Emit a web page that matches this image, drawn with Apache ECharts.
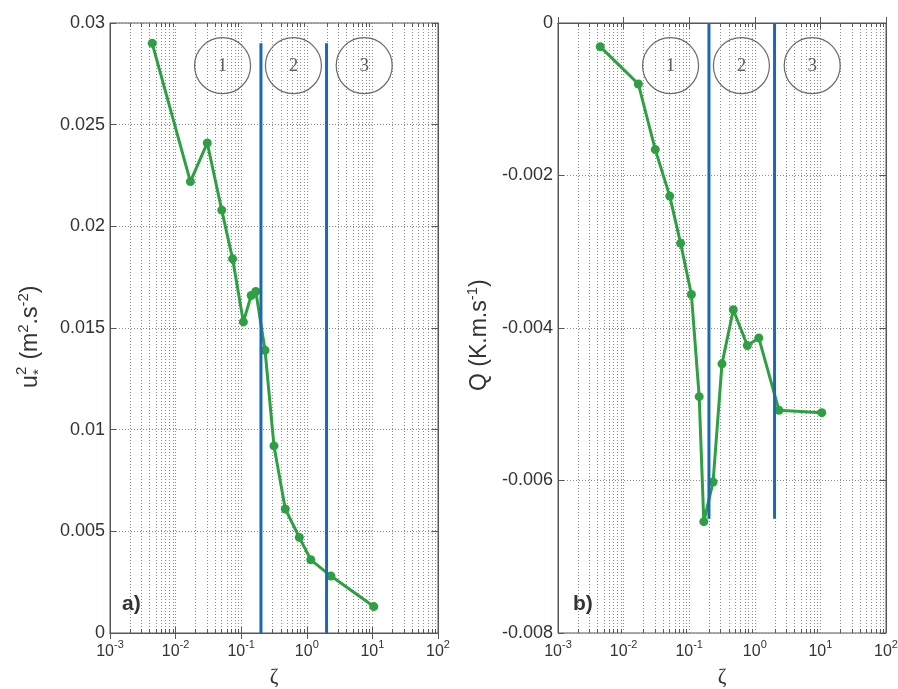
<!DOCTYPE html>
<html><head><meta charset="utf-8">
<script src="https://cdn.jsdelivr.net/npm/echarts@6/dist/echarts.min.js"></script>
<style>html,body{margin:0;padding:0;background:#fff}#c{width:898px;height:689px}</style>
</head><body><div id="c"></div>
<script>
// ---- data ----
const zeta = [0.0044, 0.0168, 0.0304, 0.0505, 0.074, 0.108, 0.142, 0.167, 0.231, 0.316, 0.47, 0.77, 1.15, 2.34, 10.5];
const ustar2 = [0.0290, 0.0222, 0.0241, 0.0208, 0.0184, 0.0153, 0.0166, 0.0168, 0.0139, 0.0092, 0.0061, 0.0047, 0.0036, 0.0028, 0.0013];
const heatFlux = [-0.00031, -0.00080, -0.00166, -0.00227, -0.00289, -0.00356, -0.00490, -0.00654, -0.00602, -0.00447, -0.00376, -0.00423, -0.00413, -0.00508, -0.00511];
const regimeBounds = [0.2, 2];
const boundSpanA = [0, 0.029];
const boundSpanB = [-0.0065, 0];
const regimeNames = ['1', '2', '3'];
const regimeLabelZeta = [0.052, 0.625, 7.5];
const regimeLabelYA = 0.0279;
const regimeLabelYB = -0.00056;
const xRange = [0.001, 100];
const yRangeA = [0, 0.03];
const yRangeB = [-0.008, 0];
const yStepA = 0.005;
const yStepB = 0.002;

// minor log positions (2..9 x 10^k)
const minorZeta = [];
for (let e = -3; e <= 1; e++) for (let m = 2; m <= 9; m++) minorZeta.push(m * Math.pow(10, e));

const SANS = 'Liberation Sans, Arial, sans-serif';
const FRAME = '#5b5555';
const GRIDC = '#8c8c8c';
const TXT = '#333';
const GREEN = '#2ea043';
const BLUE = '#1c68b8';

function xAxisPair(gridIndex) {
  return [{
    type: 'log', logBase: 10, gridIndex, min: xRange[0], max: xRange[1],
    axisLine: { show: true, lineStyle: { color: FRAME, width: 1 } },
    axisTick: { show: true, inside: true, length: 6, lineStyle: { color: FRAME } },
    splitLine: { show: true, lineStyle: { color: GRIDC, type: [1, 2], width: 1 } },
    axisLabel: {
      show: true, margin: 6, showMinLabel: true, showMaxLabel: true,
      formatter: v => '{b|10}{s|' + Math.round(Math.log10(v)) + '}',
      rich: {
        b: { fontSize: 16, fontFamily: SANS, color: TXT, lineHeight: 25 },
        s: { fontSize: 11, fontFamily: SANS, color: TXT, verticalAlign: 'top', lineHeight: 12 }
      }
    },
    name: 'ζ', nameLocation: 'middle', nameGap: 33,
    nameTextStyle: { fontFamily: 'Liberation Serif, serif', fontSize: 21, color: TXT, verticalAlign: 'top', lineHeight: 22 }
  }, {
    type: 'log', logBase: 10, gridIndex, min: xRange[0], max: xRange[1], position: 'top',
    axisLine: { show: true, lineStyle: { color: FRAME, width: 1 } },
    axisTick: { show: true, inside: true, length: 6, lineStyle: { color: FRAME } },
    axisLabel: { show: false }, splitLine: { show: false }
  }];
}
function yAxisPair(gridIndex, range, step) {
  return [{
    type: 'value', gridIndex, min: range[0], max: range[1], interval: step,
    axisLine: { show: true, lineStyle: { color: FRAME, width: 1 } },
    axisTick: { show: true, inside: true, length: 6, lineStyle: { color: FRAME } },
    splitLine: { show: true, lineStyle: { color: GRIDC, type: [1, 2], width: 1 } },
    axisLabel: { fontSize: 18, fontFamily: SANS, color: TXT, margin: 5, showMinLabel: true, showMaxLabel: true }
  }, {
    type: 'value', gridIndex, min: range[0], max: range[1], interval: step, position: 'right',
    axisLine: { show: true, lineStyle: { color: FRAME, width: 1 } },
    axisTick: { show: true, inside: true, length: 6, lineStyle: { color: FRAME } },
    axisLabel: { show: false }, splitLine: { show: false }
  }];
}

function minorRender(yr) {
  return function (params, api) {
    const v = api.value(0);
    const t = api.coord([v, yr[1]]);
    const b = api.coord([v, yr[0]]);
    const x = Math.round(t[0]) + 0.5;
    return {
      type: 'group', children: [
        { type: 'line', shape: { x1: x, y1: b[1], x2: x, y2: t[1] }, style: { stroke: GRIDC, lineWidth: 1, lineDash: [1, 2] } },
        { type: 'line', shape: { x1: x, y1: b[1], x2: x, y2: b[1] - 4 }, style: { stroke: FRAME, lineWidth: 1 } },
        { type: 'line', shape: { x1: x, y1: t[1], x2: x, y2: t[1] + 4 }, style: { stroke: FRAME, lineWidth: 1 } }
      ]
    };
  };
}

function panelSeries(xi, yi, yvals, yr, span, labelY) {
  const s = [];
  s.push({
    type: 'custom', xAxisIndex: xi, yAxisIndex: yi, silent: true, z: 1,
    renderItem: minorRender(yr), data: minorZeta.map(v => [v, yr[0]])
  });
  s.push({
    type: 'line', xAxisIndex: xi, yAxisIndex: yi, z: 3,
    data: zeta.map((z, i) => [z, yvals[i]]),
    symbol: 'circle', symbolSize: 9, showSymbol: true,
    itemStyle: { color: GREEN },
    lineStyle: { color: GREEN, width: 3 }
  });
  regimeBounds.forEach(bd => {
    s.push({
      type: 'line', xAxisIndex: xi, yAxisIndex: yi, z: 4, showSymbol: false,
      data: [[bd, span[0]], [bd, span[1]]],
      lineStyle: { color: BLUE, width: 3 }
    });
  });
  s.push({
    type: 'scatter', xAxisIndex: xi, yAxisIndex: yi, z: 5, silent: true,
    data: regimeLabelZeta.map((z, i) => ({ value: [z, labelY], name: regimeNames[i] })),
    symbol: 'circle', symbolSize: 56,
    itemStyle: { color: 'rgba(0,0,0,0)', borderColor: '#4a4444', borderWidth: 1.2 },
    label: { show: true, position: 'inside', formatter: '{b}', fontFamily: 'Liberation Serif, serif', fontSize: 19, color: '#3a3a3a' }
  });
  return s;
}

function yTitle(x, yBottom, parts) {
  return { type: 'group', x: x, y: yBottom, rotation: Math.PI / 2, children: parts };
}
const mainFont = '23px ' + SANS;
const supFont = '15px ' + SANS;

const chart = echarts.init(document.getElementById('c'), null, { renderer: 'canvas' });
chart.setOption({
  animation: false,
  backgroundColor: '#fff',
  grid: [
    { left: 110, top: 23, width: 328, height: 610, show: true, borderColor: FRAME, borderWidth: 1, backgroundColor: '#fff', outerBoundsMode: 'none', containLabel: false },
    { left: 558, top: 23, width: 328, height: 610, show: true, borderColor: FRAME, borderWidth: 1, backgroundColor: '#fff', outerBoundsMode: 'none', containLabel: false }
  ],
  xAxis: [...xAxisPair(0), ...xAxisPair(1)],
  yAxis: [...yAxisPair(0, yRangeA, yStepA), ...yAxisPair(1, yRangeB, yStepB)],
  series: [
    ...panelSeries(0, 0, ustar2, yRangeA, boundSpanA, regimeLabelYA),
    ...panelSeries(2, 2, heatFlux, yRangeB, boundSpanB, regimeLabelYB)
  ],
  graphic: [
    yTitle(31, 388, [
      { type: 'text', x: 0, y: 0, style: { text: 'u', font: mainFont, fill: TXT, verticalAlign: 'middle' } },
      { type: 'text', x: 13, y: -9, style: { text: '2', font: supFont, fill: TXT, verticalAlign: 'middle' } },
      { type: 'text', x: 13, y: 8, style: { text: '*', font: supFont, fill: TXT, verticalAlign: 'middle' } },
      { type: 'text', x: 22, y: 0, style: {
        text: '{n| (m}{s|2}{n|.s}{s|-2}{n|)}', verticalAlign: 'middle',
        rich: { n: { font: mainFont, fill: TXT, lineHeight: 30 }, s: { font: supFont, fill: TXT, verticalAlign: 'top', lineHeight: 17 } }
      } }
    ]),
    yTitle(480, 391, [
      { type: 'text', x: 0, y: 0, style: {
        text: '{n|Q (K.m.s}{s|-1}{n|)}', verticalAlign: 'middle',
        rich: { n: { font: mainFont, fill: TXT, lineHeight: 30 }, s: { font: supFont, fill: TXT, verticalAlign: 'top', lineHeight: 17 } }
      } }
    ]),
    { type: 'text', left: 122, top: 594, z: 10, style: { text: 'a)', font: 'bold 21px ' + SANS, fill: '#333' } },
    { type: 'text', left: 573, top: 594, z: 10, style: { text: 'b)', font: 'bold 21px ' + SANS, fill: '#333' } }
  ]
});
</script>
</body></html>
